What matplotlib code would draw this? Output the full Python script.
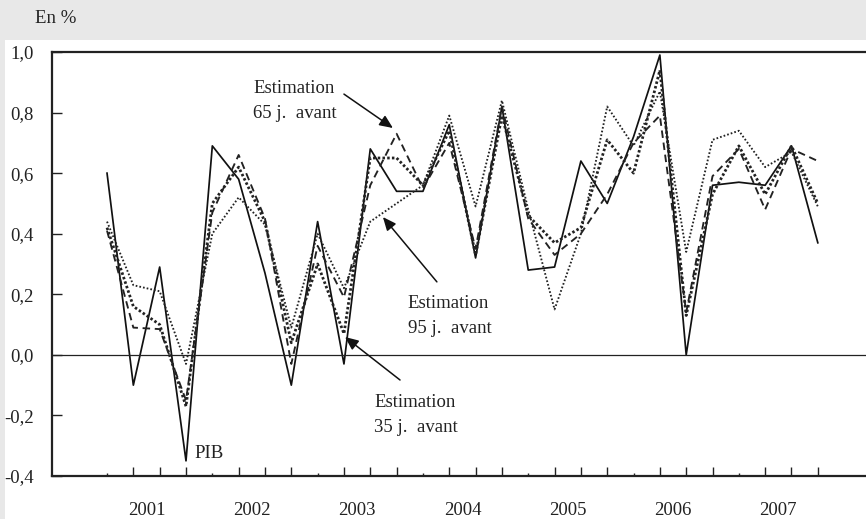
import matplotlib.pyplot as plt
from matplotlib.patches import Rectangle

# quarterly growth, 2001Q1 .. 2007Q4
quarters = list(range(28))
years = ['2001', '2002', '2003', '2004', '2005', '2006', '2007']
pib = [0.60, -0.10, 0.29, -0.35, 0.69, 0.58, 0.27, -0.10, 0.44, -0.03,
       0.68, 0.54, 0.54, 0.76, 0.32, 0.82, 0.28, 0.29, 0.64, 0.50,
       0.72, 0.99, 0.00, 0.56, 0.57, 0.56, 0.69, 0.37]
est_35 = [0.42, 0.16, 0.10, -0.17, 0.50, 0.62, 0.44, 0.04, 0.30, 0.07,
          0.65, 0.65, 0.56, 0.74, 0.33, 0.79, 0.46, 0.37, 0.42, 0.71,
          0.60, 0.94, 0.13, 0.53, 0.69, 0.53, 0.69, 0.50]
est_65 = [0.41, 0.09, 0.085, -0.15, 0.47, 0.66, 0.45, -0.03, 0.36, 0.19,
          0.56, 0.73, 0.55, 0.70, 0.35, 0.82, 0.45, 0.33, 0.40, 0.53,
          0.70, 0.79, 0.14, 0.59, 0.68, 0.48, 0.68, 0.64]
est_95 = [0.44, 0.23, 0.21, -0.03, 0.40, 0.52, 0.43, 0.09, 0.40, 0.22,
          0.44, 0.50, 0.56, 0.79, 0.49, 0.84, 0.48, 0.15, 0.40, 0.82,
          0.69, 0.87, 0.34, 0.71, 0.74, 0.62, 0.67, 0.49]
y_ticks = [1.0, 0.8, 0.6, 0.4, 0.2, 0.0, -0.2, -0.4]
y_labels = ['1,0', '0,8', '0,6', '0,4', '0,2', '0,0', '-0,2', '-0,4']

plt.rcParams['font.family'] = ['Liberation Serif', 'DejaVu Serif']
FS = 13.5

fig = plt.figure(figsize=(8.66, 5.19), dpi=100)
fig.patch.set_facecolor('#e8e8e8')
fig.patches.append(Rectangle((5 / 866, 0), 1, 1 - 40 / 519, transform=fig.transFigure,
                             facecolor='white', edgecolor='none', zorder=-5))
fig.text(35 / 866, 1 - 23 / 519, 'En %', fontsize=FS, va='baseline', color='#222222')

ax = fig.add_axes([52 / 866, 1 - 476 / 519, 1 - 52 / 866, 424 / 519])
ax.set_facecolor('white')

ax.plot(quarters, pib, color='#111111', lw=1.25, ls='-')
ax.plot(quarters, est_35, color='#222222', lw=2.0, ls=(0, (0.9, 0.8)))
ax.plot(quarters, est_65, color='#222222', lw=1.35, ls=(0, (4, 2.5)))
ax.plot(quarters, est_95, color='#222222', lw=1.35, ls=(0, (0.9, 1.1)))
ax.axhline(0, color='#222222', lw=0.9)

ax.set_xlim(-2.09, 28.83)
ax.set_ylim(-0.4, 1.0)

ax.spines['right'].set_visible(False)
for s in ['left', 'top', 'bottom']:
    ax.spines[s].set_linewidth(1.6)
    ax.spines[s].set_color('#222222')

ax.set_yticks(y_ticks)
ax.set_yticklabels(y_labels, fontsize=FS)
ax.tick_params(axis='y', direction='in', length=7, width=1, pad=13, colors='#222222')

ax.set_xticks([q for q in quarters if q % 4 != 0])
ax.set_xticks([q for q in quarters if q % 4 == 0], minor=True)
ax.set_xticklabels([])
ax.tick_params(axis='x', which='major', direction='in', length=6.5, width=1, colors='#222222')
ax.tick_params(axis='x', which='minor', direction='in', length=2.4, width=1, colors='#222222')
for k, yr in enumerate(years):
    ax.text(1.5 + 4 * k, -0.092, yr, transform=ax.get_xaxis_transform(),
            ha='center', va='baseline', fontsize=FS, color='#222222')

arrow = dict(arrowstyle='-|>,head_length=0.8,head_width=0.35', color='#111111', lw=1.1,
             shrinkA=0, shrinkB=0)

ax.text(5.545, 0.8646, 'Estimation', fontsize=FS, va='baseline', color='#222222')
ax.text(5.545, 0.7821, '65 j.  avant', fontsize=FS, va='baseline', color='#222222')
ax.annotate('', xy=(10.86, 0.749), xytext=(9.0, 0.861), arrowprops=arrow)

ax.text(11.43, 0.1547, 'Estimation', fontsize=FS, va='baseline', color='#222222')
ax.text(11.43, 0.0722, '95 j.  avant', fontsize=FS, va='baseline', color='#222222')
ax.annotate('', xy=(10.48, 0.455), xytext=(12.53, 0.241), arrowprops=arrow)

ax.text(10.14, -0.1722, 'Estimation', fontsize=FS, va='baseline', color='#222222')
ax.text(10.14, -0.2547, '35 j.  avant', fontsize=FS, va='baseline', color='#222222')
ax.annotate('', xy=(9.04, 0.059), xytext=(11.13, -0.083), arrowprops=arrow)

ax.text(3.34, -0.3406, 'PIB', fontsize=FS, va='baseline', color='#222222')

plt.savefig('out.png', dpi=100, facecolor=fig.get_facecolor())
plt.close()
